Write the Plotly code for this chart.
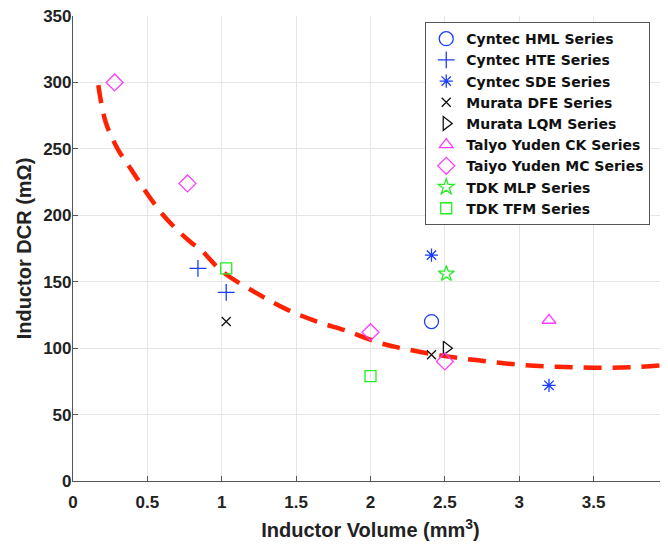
import plotly.graph_objects as go

# data
hml_x = [2.41]
hml_y = [120]
hte_x = [0.84, 1.03]
hte_y = [160, 142]
sde_x = [2.41, 3.2]
sde_y = [170, 72]
dfe_x = [1.03, 2.41, 4.0]
dfe_y = [120, 95, 84]
lqm_x = [2.51]
lqm_y = [100]
ck_x = [3.2]
ck_y = [121]
mc_x = [0.28, 0.77, 2.0, 2.5]
mc_y = [300, 224, 112, 90]
mlp_x = [2.51]
mlp_y = [156]
tfm_x = [1.03, 2.0]
tfm_y = [160, 79]

# fitted trend (dashed red), read point by point
fit_x = [0.17, 0.22, 0.3, 0.4, 0.5, 0.6, 0.7, 0.8, 0.86, 1.0, 1.24, 1.44,
         1.64, 1.84, 2.06, 2.25, 2.5, 2.75, 3.0, 3.25, 3.5, 3.75, 4.0]
fit_y = [298, 270, 250, 233, 216, 201, 189, 179, 174, 158, 141, 129,
         120, 113, 104, 99, 94, 90.5, 87.5, 86, 85.3, 85.6, 87.5]

BLUE = '#1a3cff'
MAG = '#ff3cff'
GREEN = '#22ee22'
BLACK = '#111111'

series = [
    ('Cyntec HML Series', hml_x, hml_y, 'circle-open', BLUE, 14),
    ('Cyntec HTE Series', hte_x, hte_y, 'cross-thin-open', BLUE, 12),
    ('Cyntec SDE Series', sde_x, sde_y, 'asterisk-open', BLUE, 11),
    ('Murata DFE Series', dfe_x, dfe_y, 'x-thin-open', BLACK, 9),
    ('Murata LQM Series', lqm_x, lqm_y, 'triangle-right-open', BLACK, 12),
    ('Talyo Yuden CK Series', ck_x, ck_y, 'triangle-up-open', MAG, 12),
    ('Taiyo Yuden MC Series', mc_x, mc_y, 'diamond-open', MAG, 13),
    ('TDK MLP Series', mlp_x, mlp_y, 'star-open', GREEN, 12),
    ('TDK TFM Series', tfm_x, tfm_y, 'square-open', GREEN, 11),
]

fig = go.Figure()

fig.add_trace(go.Scatter(
    x=fit_x, y=fit_y, mode='lines', showlegend=False,
    line=dict(color='#ff2200', width=4.5, dash='18px,11px', shape='spline'),
))

for nome, xs, ys, simb, cor, tam in series:
    fig.add_trace(go.Scatter(
        x=xs, y=ys, mode='markers', name=nome, cliponaxis=False,
        marker=dict(symbol=simb, color=cor, size=tam,
                    line=dict(color=cor, width=1.3)),
    ))

# the page body has an 8px margin, so margins are shifted by that much
fig.update_layout(
    width=668, height=548,
    margin=dict(l=65, r=8, t=8, b=75),
    paper_bgcolor='white', plot_bgcolor='white',
    font=dict(family='Liberation Sans, Arial, sans-serif', size=17,
              color='#222222', weight='bold'),
    legend=dict(x=0.592, y=0.987, xanchor='left', yanchor='top',
                bgcolor='white', bordercolor='#555555', borderwidth=1,
                font=dict(family='DejaVu Sans, sans-serif', size=14,
                          color='#111111', weight='bold'),
                itemwidth=30, tracegroupgap=0),
    xaxis=dict(
        range=[0, 4], tickvals=[0, 0.5, 1, 1.5, 2, 2.5, 3, 3.5, 4],
        ticktext=['0', '0.5', '1', '1.5', '2', '2.5', '3', '3.5', '4'],
        automargin=False, ticklabelstandoff=5, ticklabeloverflow='allow',
        showgrid=True, gridcolor='#e6e6e6', zeroline=False,
        showline=True, linecolor='#555555', linewidth=1.2,
        ticks='inside', ticklen=5, tickcolor='#555555',
        title=dict(text='Inductor Volume (mm<sup>3</sup>)',
                   font=dict(size=20), standoff=12),
    ),
    yaxis=dict(
        range=[0, 350], tickvals=[0, 50, 100, 150, 200, 250, 300, 350],
        automargin=False, ticklabelstandoff=-3, ticklabeloverflow='allow',
        showgrid=True, gridcolor='#e6e6e6', zeroline=False,
        showline=True, linecolor='#555555', linewidth=1.2,
        ticks='inside', ticklen=5, tickcolor='#555555',
        title=dict(text='Inductor DCR (mΩ)', font=dict(size=20),
                   standoff=6),
    ),
)

fig.write_html('out.html')
